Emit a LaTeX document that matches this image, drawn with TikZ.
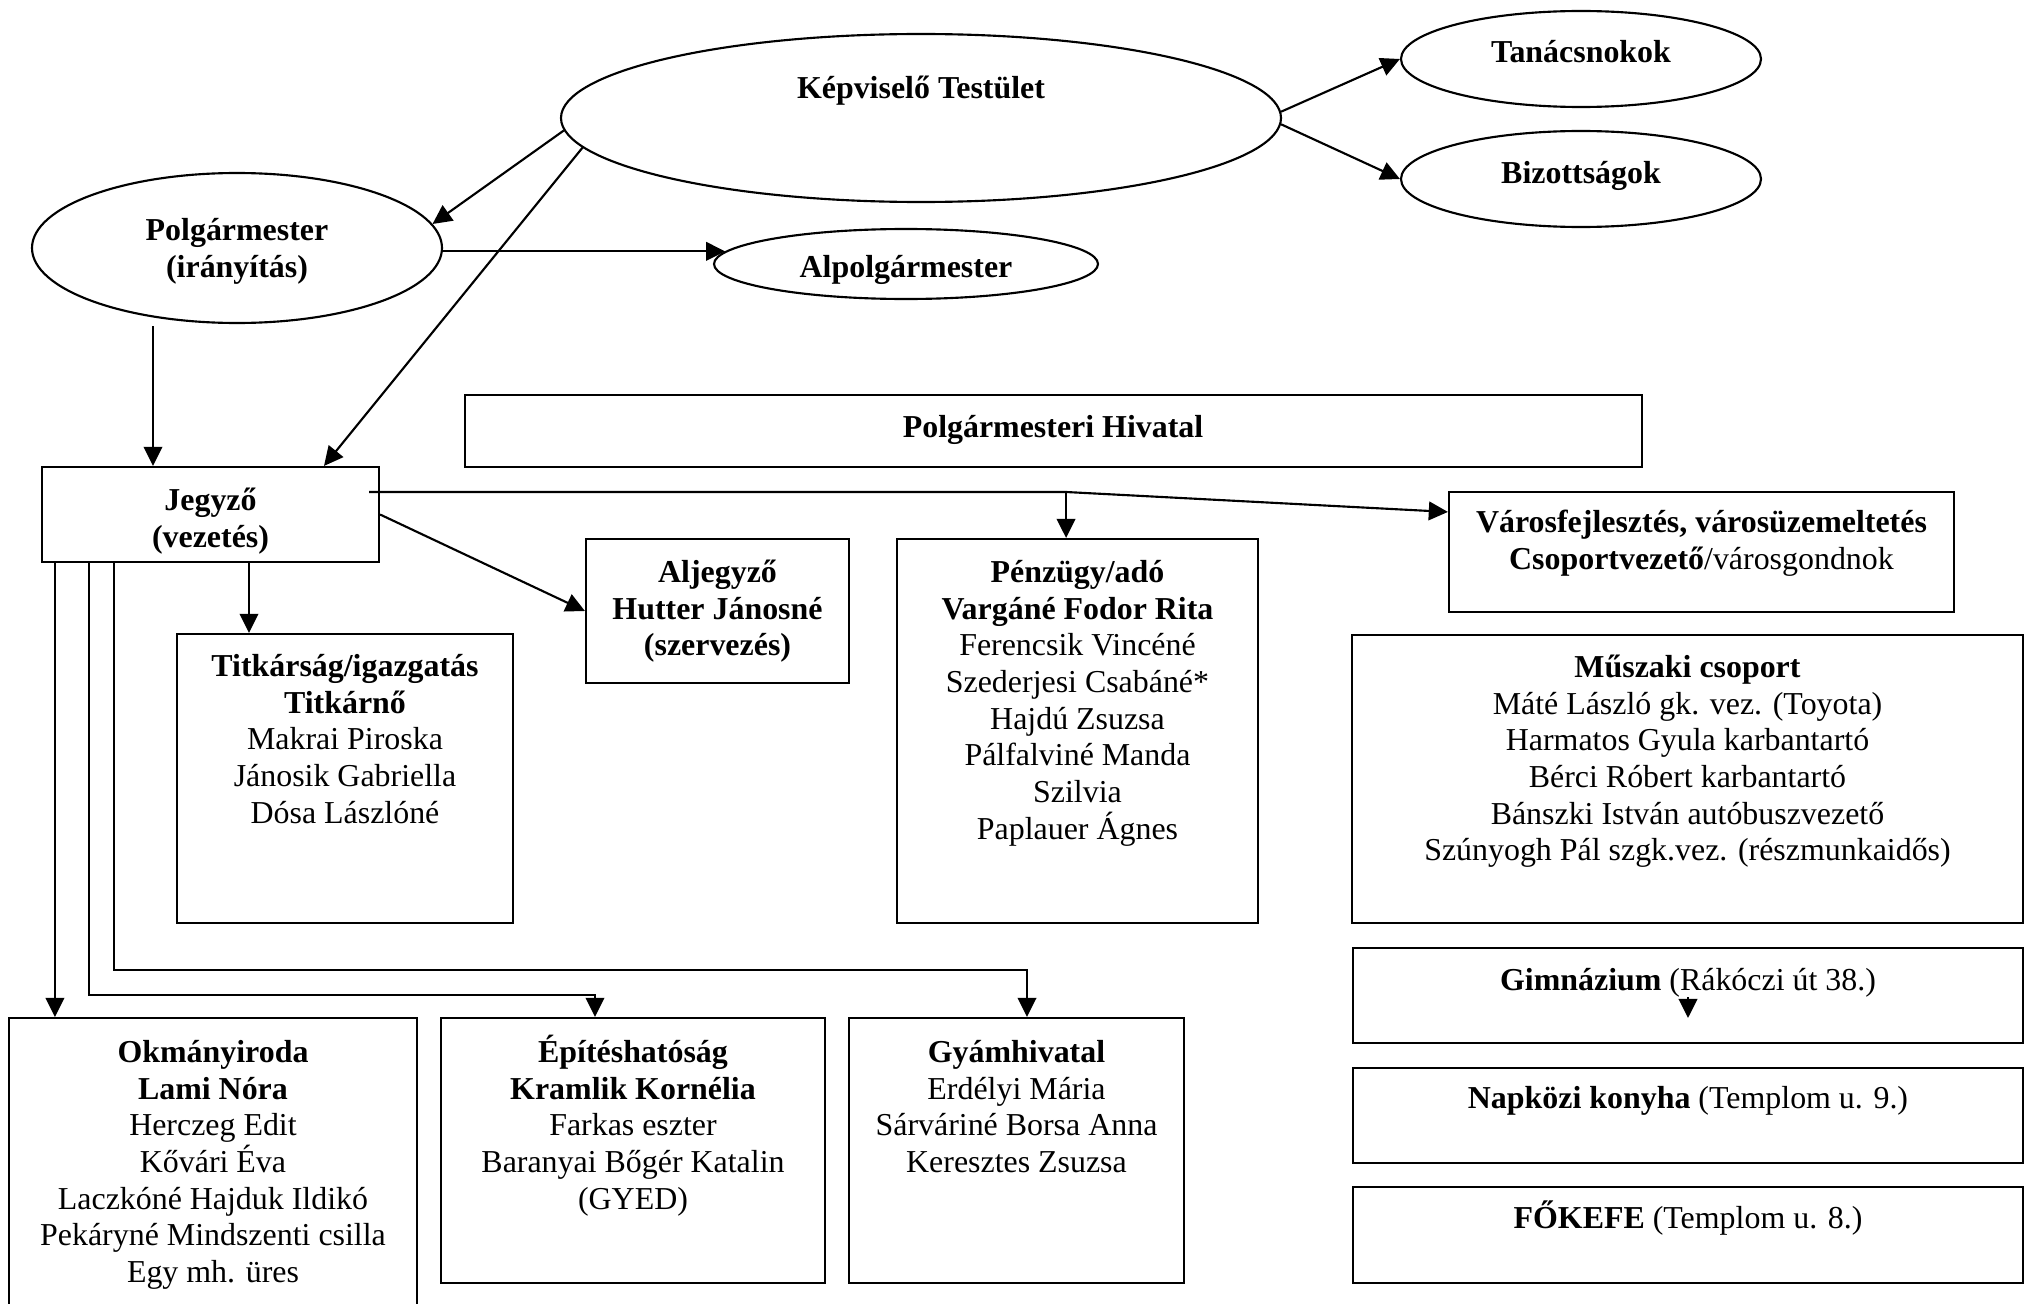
\documentclass[tikz,border=0pt]{standalone}
\usepackage{fontspec}
\setmainfont{Liberation Serif}
\usetikzlibrary{shapes.geometric, arrows.meta, calc}
\newcommand\mkbox[5]{\node[box, minimum width={(#4-#2)*0.376pt}, minimum height={(#5-#3)*0.376pt}] (#1) at ({(#2+#4)/2},{(#3+#5)/2}) {};}
\newcommand\mkell[5]{\node[ell, minimum width={2*#4*0.376pt}, minimum height={2*#5*0.376pt}] (#1) at (#2,#3) {};}
\newcommand\fs{\rule{0pt}{12pt}}
\newcommand\myfont{\fontsize{12}{13.8}\selectfont\lineskiplimit-100pt\relax}
\tikzset{
  ell/.style={draw, ellipse, inner sep=0pt, line width=0.8pt},
  box/.style={draw, rectangle, inner sep=0pt, line width=0.8pt},
  txt/.style={inner sep=0pt, align=center, anchor=north, font=\myfont},
  arr/.style={line width=0.8pt, -{Triangle[length=7.2pt,width=7pt]}},
  ln/.style={line width=0.8pt}
}
\begin{document}
\begin{tikzpicture}[x=0.376pt, y=-0.376pt]
\useasboundingbox (0,0) rectangle (2025,1304);
% ellipses
\mkell{kt}{921}{118}{360}{84}
\mkell{tan}{1581}{59}{180}{48}
\mkell{biz}{1581}{179}{180}{48}
\mkell{pm}{237}{248}{205}{75}
\mkell{alp}{906}{264}{192}{35}
\node[txt] (t-kt) at (921,66) {\fs\textbf{Képviselő Testület}};
\node[txt] (t-tan) at (1581,30) {\fs\textbf{Tanácsnokok}};
\node[txt] (t-biz) at (1581,151) {\fs\textbf{Bizottságok}};
\node[txt] (t-pm) at (237,208) {\fs\textbf{Polgármester}\\\textbf{(irányítás)}};
\node[txt] (t-alp) at (906,245) {\fs\textbf{Alpolgármester}};
% boxes
\mkbox{ph}{465}{395}{1642}{467}
\mkbox{jeg}{42}{467}{379}{562}
\mkbox{varos}{1449}{492}{1954}{612}
\mkbox{alj}{586}{539}{849}{683}
\mkbox{penz}{897}{539}{1258}{923}
\mkbox{tit}{177}{634}{513}{923}
\mkbox{musz}{1352}{635}{2023}{923}
\mkbox{gimn}{1353}{948}{2023}{1043}
\mkbox{napk}{1353}{1068}{2023}{1163}
\mkbox{fok}{1353}{1187}{2023}{1283}
\mkbox{okm}{9}{1018}{417}{1340}
\mkbox{epit}{441}{1018}{825}{1283}
\mkbox{gyam}{849}{1018}{1184}{1283}
% texts
\node[txt] (t-ph) at (1053,405) {\fs\textbf{Polgármesteri Hivatal}};
\node[txt] (t-jeg) at (210.5,478) {\fs\textbf{Jegyző}\\\textbf{(vezetés)}};
\node[txt] (t-varos) at (1701.5,500) {\fs\textbf{Városfejlesztés, városüzemeltetés}\\\textbf{Csoportvezető}/városgondnok};
\node[txt] (t-alj) at (717.5,550) {\fs\textbf{Aljegyző}\\\textbf{Hutter Jánosné}\\\textbf{(szervezés)}};
\node[txt] (t-penz) at (1077.5,550) {\fs\textbf{Pénzügy/adó}\\\textbf{Vargáné Fodor Rita}\\Ferencsik Vincéné\\Szederjesi Csabáné*\\Hajdú Zsuzsa\\Pálfalviné Manda\\Szilvia\\Paplauer Ágnes};
\node[txt] (t-tit) at (345,644) {\fs\textbf{Titkárság/igazgatás}\\\textbf{Titkárnő}\\Makrai Piroska\\Jánosik Gabriella\\Dósa Lászlóné};
\node[txt] (t-musz) at (1687.5,645) {\fs\textbf{Műszaki csoport}\\Máté László gk. vez. (Toyota)\\Harmatos Gyula karbantartó\\Bérci Róbert karbantartó\\Bánszki István autóbuszvezető\\Szúnyogh Pál szgk.vez. (részmunkaidős)};
\node[txt] (t-gimn) at (1688,958) {\fs\textbf{Gimnázium} (Rákóczi út 38.)};
\node[txt] (t-napk) at (1688,1076) {\fs\textbf{Napközi konyha} (Templom u. 9.)};
\node[txt] (t-fok) at (1688,1196) {\fs\textbf{FŐKEFE} (Templom u. 8.)};
\node[txt] (t-okm) at (213,1030) {\fs\textbf{Okmányiroda}\\\textbf{Lami Nóra}\\Herczeg Edit\\Kővári Éva\\Laczkóné Hajduk Ildikó\\Pekáryné Mindszenti csilla\\Egy mh. üres};
\node[txt] (t-epit) at (633,1030) {\fs\textbf{Építéshatóság}\\\textbf{Kramlik Kornélia}\\Farkas eszter\\Baranyai Bőgér Katalin\\(GYED)};
\node[txt] (t-gyam) at (1016.5,1030) {\fs\textbf{Gyámhivatal}\\Erdélyi Mária\\Sárváriné Borsa Anna\\Keresztes Zsuzsa};
% connectors
\draw[arr] (kt.1.75) -- (tan.west);
\draw[arr] (kt.-1.75) -- (biz.west);
\draw[arr] (kt.182) -- (pm.7);
\coordinate (kj) at ($(jeg.north)+(113.5,0)$);
\draw[arr] (kt.185.5) -- (kj);
\draw[arr] (pm.east |- alp.176) -- (alp.176);
\coordinate (pa) at ($(pm.south)+(-84,2)$);
\coordinate (pb) at ($(jeg.north)+(-57.5,0)$);
\draw[arr] (pa) -- (pb);
\coordinate (js) at ($(jeg.east)+(-11,-22.5)$);
\coordinate (jv) at ($(jeg.east)+(686,-22.5)$);
\coordinate (vt) at ($(varos.north west)+(0,21)$);
\draw[arr] (js) -- (jv) -- (vt);
\draw[arr] (jv) -- (jv |- penz.north);
\draw[arr] (jeg.east) -- (alj.west);
\coordinate (j4) at ($(jeg.south)+(38.5,0)$);
\draw[arr] (j4) -- (j4 |- tit.north);
\coordinate (j1) at ($(jeg.south west)+(14,0)$);
\draw[arr] (j1) -- (j1 |- okm.north);
\coordinate (j2) at ($(jeg.south west)+(48,0)$);
\coordinate (e1) at ($(epit.north)+(-38,-22)$);
\coordinate (e2) at ($(epit.north)+(-38,0)$);
\draw[arr] (j2) -- (j2 |- e1) -- (e1) -- (e2);
\coordinate (j3) at ($(jeg.south west)+(73,0)$);
\coordinate (g3) at ($(gyam.north)+(10.5,-47)$);
\coordinate (g4) at ($(gyam.north)+(10.5,0)$);
\draw[arr] (j3) -- (j3 |- g3) -- (g3) -- (g4);
\coordinate (g1) at ($(gimn.center)+(0,1.5)$);
\coordinate (g2) at ($(gimn.center)+(0,22.5)$);
\draw[arr] (g1) -- (g2);
\end{tikzpicture}
\end{document}
